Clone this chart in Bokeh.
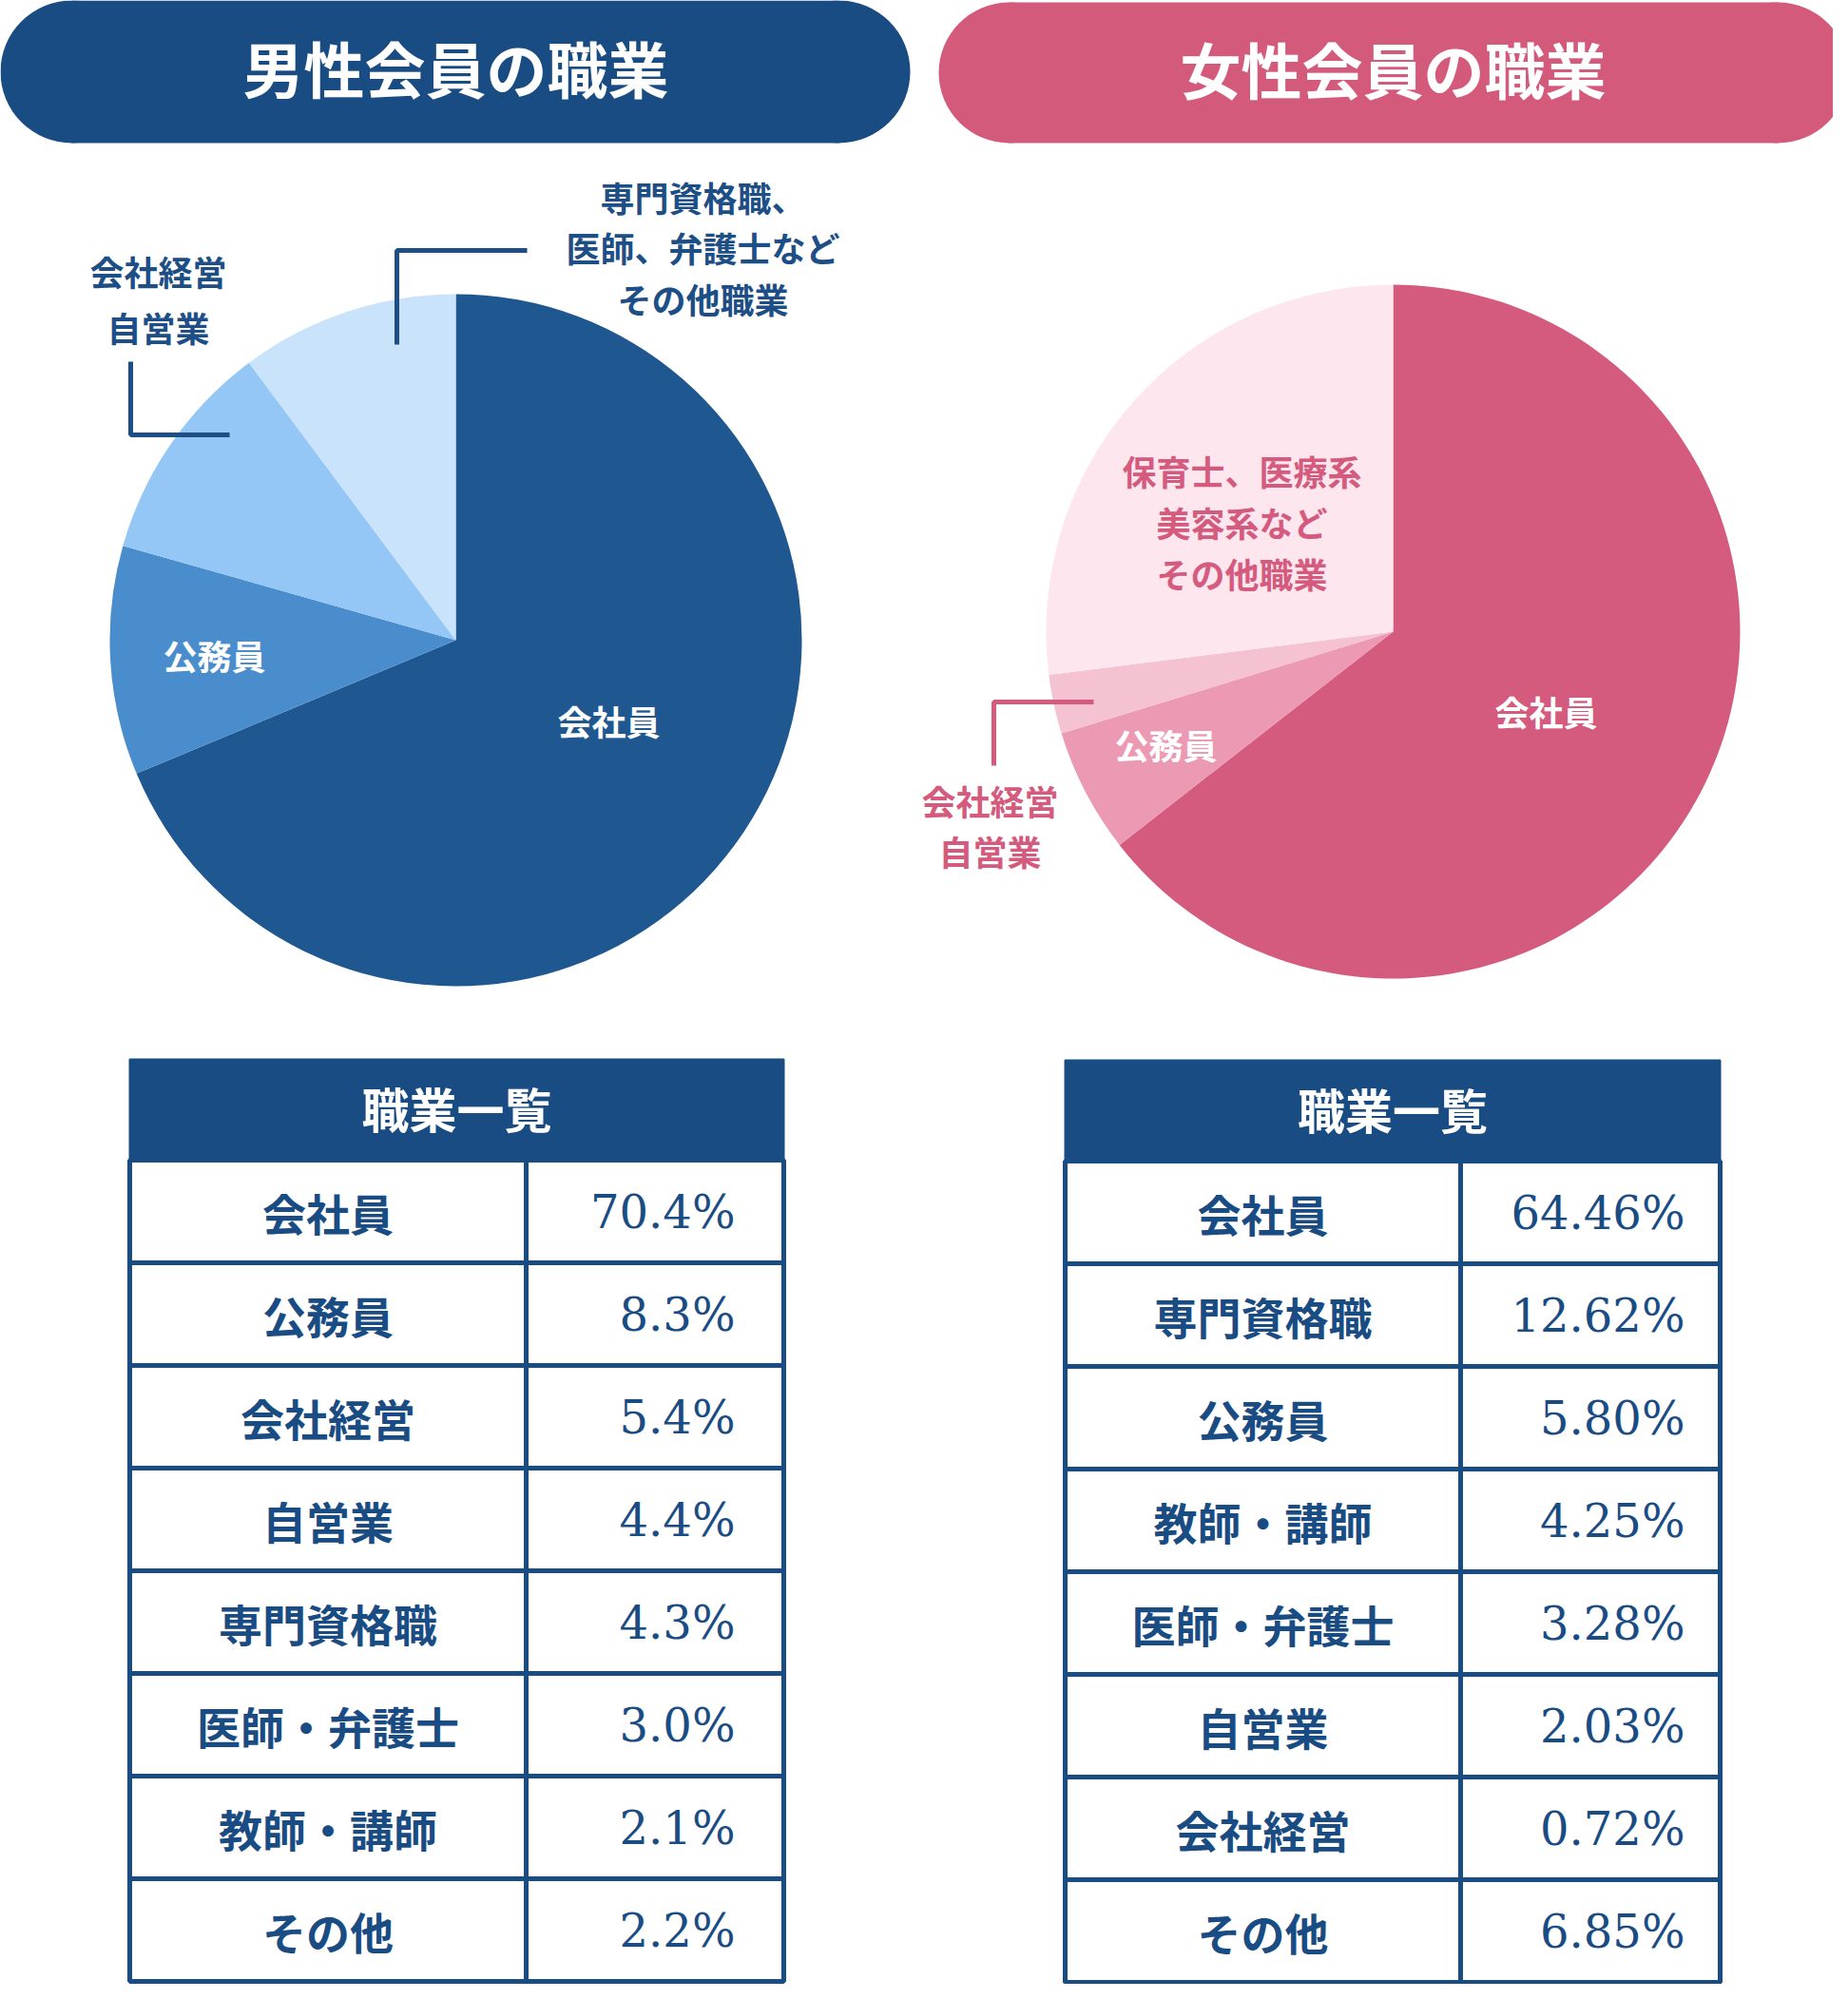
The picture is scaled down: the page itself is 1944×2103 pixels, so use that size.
import numpy as np
from bokeh.plotting import figure
from bokeh.models import Range1d, ColumnDataSource
from bokeh.core.properties import value
from bokeh.embed import file_html
from bokeh.resources import INLINE

# ---------------- data ----------------
men_title = "男性会員の職業"
women_title = "女性会員の職業"
table_title = "職業一覧"

# pie slices (clockwise from 12 o'clock)
men_pie_groups = ["会社員", "公務員", "会社経営・自営業", "その他職業"]
men_pie_values = [68.7, 10.7, 10.4, 10.2]
women_pie_groups = ["会社員", "公務員", "会社経営・自営業", "その他職業"]
women_pie_values = [64.46, 5.80, 2.75, 26.99]

# table rows
men_jobs = ["会社員", "公務員", "会社経営", "自営業", "専門資格職", "医師・弁護士", "教師・講師", "その他"]
men_pct = [70.4, 8.3, 5.4, 4.4, 4.3, 3.0, 2.1, 2.2]
women_jobs = ["会社員", "専門資格職", "公務員", "教師・講師", "医師・弁護士", "自営業", "会社経営", "その他"]
women_pct = [64.46, 12.62, 5.80, 4.25, 3.28, 2.03, 0.72, 6.85]

# label texts
men_inner_labels = ["会社員", "公務員"]
men_outer_label_a = ["会社経営", "自営業"]
men_outer_label_b = ["専門資格職、", "医師、弁護士など", "その他職業"]
women_inner_labels = ["会社員", "公務員"]
women_outer_label_a = ["保育士、医療系", "美容系など", "その他職業"]
women_outer_label_b = ["会社経営", "自営業"]

# ---------------- styles ----------------
BLUE = "#1a4c84"
BLUE_TXT = "#1d4f86"
PINK = "#d45a7c"
PINK_TXT = "#d45a7e"
men_colors = ["#1f5890", "#4a8dcc", "#94c6f6", "#c9e3fb"]
women_colors = ["#d45a7e", "#ec9ab4", "#f5c2d1", "#fde6ee"]
CJK = value("Noto Sans CJK JP")
SERIF = value("DejaVu Serif")

W, H = 1928, 2087
p = figure(width=W, height=H, x_range=Range1d(0, W), y_range=Range1d(H, 0),
           output_backend="svg", toolbar_location=None, min_border=0,
           x_axis_type=None, y_axis_type=None, outline_line_color=None,
           background_fill_color="white", border_fill_color="white")
p.grid.visible = False


def pill(x0, x1, y0, y1, color):
    r = (y1 - y0) / 2
    p.rect(x=[(x0 + x1) / 2], y=[(y0 + y1) / 2], width=(x1 - x0) - 2 * r, height=y1 - y0,
           fill_color=color, line_color=None)
    p.circle(x=[x0 + r, x1 - r], y=[(y0 + y1) / 2] * 2, radius=r, fill_color=color, line_color=None)


def pie(cx, cy, r, vals, colors):
    v = np.array(vals, dtype=float)
    v = v / v.sum()
    cum = np.concatenate([[0.0], np.cumsum(v)])
    src = ColumnDataSource(dict(start=np.pi / 2 - 2 * np.pi * cum[:-1],
                                end=np.pi / 2 - 2 * np.pi * cum[1:],
                                color=colors))
    p.wedge(x=cx, y=cy, radius=r, start_angle="start", end_angle="end", direction="clock",
            fill_color="color", line_color=None, source=src)


def label_lines(lines, cx, y0, dy, size, color):
    ys = [y0 + i * dy for i in range(len(lines))]
    p.text(x=[cx] * len(lines), y=ys, text=lines, text_font=CJK, text_font_size=size,
           text_font_style="bold", text_color=color, text_align="center", text_baseline="middle")


def leader(xs, ys, color):
    p.line(x=xs, y=ys, line_color=color, line_width=5)


def table(x0, xm, x1, top, head_h, row_h, jobs, pcts, fmt, pad):
    p.quad(left=[x0], right=[x1], top=[top], bottom=[top + head_h], fill_color=BLUE, line_color=BLUE,
           line_width=2)
    p.text(x=[(x0 + x1) / 2], y=[top + head_h / 2 - 3], text=[table_title], text_font=CJK,
           text_font_size="50px", text_font_style="bold", text_color="white",
           text_align="center", text_baseline="middle")
    n = len(jobs)
    tops = [top + head_h + i * row_h for i in range(n)]
    bots = [t + row_h for t in tops]
    p.quad(left=[x0] * n, right=[xm] * n, top=tops, bottom=bots, fill_color="white",
           line_color=BLUE, line_width=5)
    p.quad(left=[xm] * n, right=[x1] * n, top=tops, bottom=bots, fill_color="white",
           line_color=BLUE, line_width=5)
    mids = [t + row_h / 2 for t in tops]
    p.text(x=[(x0 + xm) / 2] * n, y=mids, text=jobs, text_font=CJK, text_font_size="46px",
           text_font_style="bold", text_color=BLUE, text_align="center", text_baseline="middle")
    p.text(x=[x1 - pad] * n, y=mids, text=[fmt.format(v) for v in pcts], text_font=SERIF,
           text_font_size="48px", text_color=BLUE, text_align="right", text_baseline="middle")


# titles
pill(0, 957, 0, 150, BLUE)
pill(987, 1944, 2, 150, PINK)
p.text(x=[479, 1465], y=[69, 70], text=[men_title, women_title], text_font=CJK, text_font_size="64px",
       text_font_style="bold", text_color="white", text_align="center", text_baseline="middle")

# pies
pie(479, 673, 364, men_pie_values, men_colors)
pie(1465, 664, 365, women_pie_values, women_colors)

# men labels
p.text(x=[640, 225], y=[757, 688], text=men_inner_labels, text_font=CJK, text_font_size="36px",
       text_font_style="bold", text_color="white", text_align="center", text_baseline="middle")
label_lines(men_outer_label_a, 166, 284, 59, "36px", BLUE_TXT)
label_lines(men_outer_label_b, 739, 206, 53.5, "36px", BLUE_TXT)
leader([137, 137, 241], [380, 457, 457], BLUE_TXT)
leader([417, 417, 554], [362, 263, 263], BLUE_TXT)

# women labels
p.text(x=[1626, 1226], y=[747, 782], text=women_inner_labels, text_font=CJK, text_font_size="36px",
       text_font_style="bold", text_color="white", text_align="center", text_baseline="middle")
label_lines(women_outer_label_a, 1306, 494, 54, "36px", PINK_TXT)
label_lines(women_outer_label_b, 1041, 841, 53.5, "36px", PINK_TXT)
leader([1045, 1045, 1150], [805, 738, 738], PINK_TXT)

# tables
table(136, 553, 824, 1114, 106, 108, men_jobs, men_pct, "{:.1f}%", 51)
table(1120, 1536, 1809, 1115, 106, 108, women_jobs, women_pct, "{:.2f}%", 37)

open("out.html", "w").write(file_html(p, INLINE))
